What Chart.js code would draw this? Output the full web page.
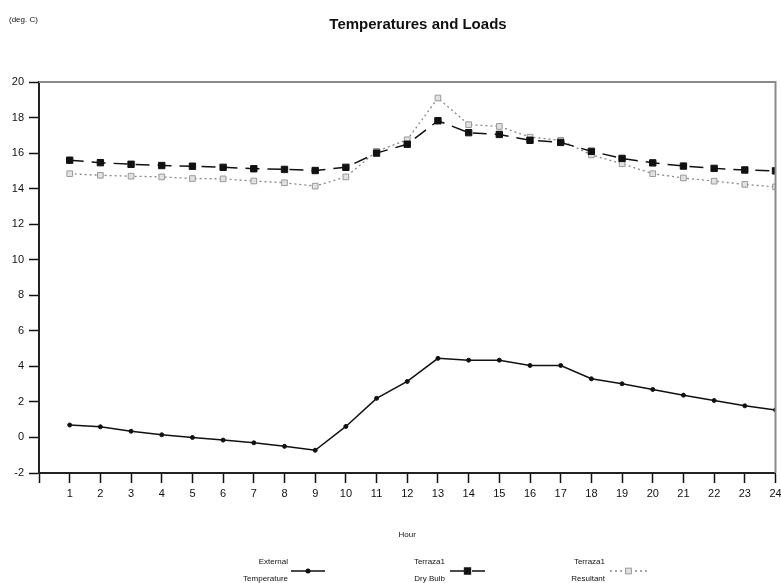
<!DOCTYPE html>
<html>
<head>
<meta charset="utf-8">
<script src="https://cdn.jsdelivr.net/npm/chart.js@4/dist/chart.umd.min.js"></script>
<style>
  html, body { margin: 0; padding: 0; background: #fff; }
  #wrap { width: 781px; height: 583px; }
</style>
</head>
<body>
<div id="wrap"><canvas id="c"></canvas></div>
<script>
// Werte
const hours = [1,2,3,4,5,6,7,8,9,10,11,12,13,14,15,16,17,18,19,20,21,22,23,24];
const externalTemp = [0.7,0.6,0.35,0.15,0.0,-0.15,-0.3,-0.5,-0.72,0.62,2.2,3.15,4.45,4.35,4.35,4.05,4.05,3.3,3.02,2.7,2.38,2.08,1.78,1.55];
const dryBulb = [15.6,15.46,15.37,15.3,15.26,15.2,15.12,15.08,15.02,15.2,16.0,16.5,17.82,17.15,17.05,16.72,16.6,16.1,15.7,15.45,15.27,15.14,15.05,15.0];
const resultant = [14.84,14.75,14.7,14.66,14.57,14.55,14.43,14.33,14.14,14.66,16.1,16.75,19.1,17.6,17.5,16.9,16.72,15.9,15.4,14.84,14.6,14.42,14.24,14.1];
const yTicks = { min: -2, max: 20, step: 2 };
const legendLabels = [['External', 'Temperature'], ['Terraza1', 'Dry Bulb'], ['Terraza1', 'Resultant']];

const FONT = 'Arial, "Liberation Sans", sans-serif';
const pts = arr => arr.map((v, i) => ({ x: hours[i], y: v }));

/* Titel, Einheit, Rahmen und zweizeilige Legende */
const decor = {
  id: 'decor',
  afterDraw(chart) {
    const { ctx, chartArea: a } = chart;
    ctx.save();
    // Rahmen oben und rechts
    ctx.strokeStyle = '#8a8a8a';
    ctx.lineWidth = 2;
    ctx.beginPath();
    ctx.moveTo(a.left, a.top);
    ctx.lineTo(a.right, a.top);
    ctx.lineTo(a.right, a.bottom);
    ctx.stroke();

    ctx.fillStyle = '#111';
    ctx.textAlign = 'center';
    ctx.textBaseline = 'middle';
    ctx.font = 'bold 15px ' + FONT;
    ctx.fillText('Temperatures and Loads', 418, 25);
    ctx.textAlign = 'left';
    ctx.font = '8px ' + FONT;
    ctx.fillText('(deg. C)', 9, 20);

    // Legende
    const items = [{ tx: 288, x0: 291, x1: 325 }, { tx: 445, x0: 450, x1: 485 }, { tx: 605, x0: 610, x1: 647 }];
    items.forEach((it, i) => {
      const ds = chart.data.datasets[i];
      ctx.fillStyle = '#111';
      ctx.textAlign = 'right';
      ctx.font = '8px ' + FONT;
      ctx.fillText(legendLabels[i][0], it.tx, 562);
      ctx.fillText(legendLabels[i][1], it.tx, 579);
      ctx.strokeStyle = ds.borderColor;
      ctx.lineWidth = ds.borderWidth;
      ctx.setLineDash(ds.borderDash || []);
      ctx.beginPath();
      ctx.moveTo(it.x0, 571);
      ctx.lineTo(it.x1, 571);
      ctx.stroke();
      ctx.setLineDash([]);
      const mx = (it.x0 + it.x1) / 2;
      ctx.fillStyle = ds.pointBackgroundColor;
      ctx.strokeStyle = ds.pointBorderColor;
      ctx.lineWidth = 1;
      if (ds.pointStyle === 'rect') {
        const s = ds.pointRadius * Math.SQRT1_2;
        ctx.fillRect(mx - s, 571 - s, 2 * s, 2 * s);
        ctx.strokeRect(mx - s, 571 - s, 2 * s, 2 * s);
      } else {
        ctx.beginPath();
        ctx.arc(mx, 571, ds.pointRadius + 0.5, 0, Math.PI * 2);
        ctx.fill();
      }
    });
    ctx.restore();
  }
};

new Chart(document.getElementById('c'), {
  type: 'line',
  data: {
    datasets: [
      { label: 'External Temperature', data: pts(externalTemp), borderColor: '#111', borderWidth: 1.5,
        pointStyle: 'circle', pointRadius: 2, pointBorderWidth: 1, pointBackgroundColor: '#111', pointBorderColor: '#111', tension: 0 },
      { label: 'Terraza1 Dry Bulb', data: pts(dryBulb), borderColor: '#111', borderWidth: 1.5, borderDash: [14, 8],
        pointStyle: 'rect', pointRadius: 4.5, pointBorderWidth: 1, pointBackgroundColor: '#111', pointBorderColor: '#111', tension: 0 },
      { label: 'Terraza1 Resultant', data: pts(resultant), borderColor: '#888', borderWidth: 1.3, borderDash: [2, 3],
        pointStyle: 'rect', pointRadius: 4, pointBorderWidth: 1, pointBackgroundColor: '#e2e2e2', pointBorderColor: '#999', tension: 0 },
    ],
  },
  options: {
    responsive: true, maintainAspectRatio: false, animation: false,
    layout: { padding: { top: 82, right: 5, left: 0, bottom: 0 } },
    plugins: { legend: { display: false }, tooltip: { enabled: false } },
    scales: {
      x: {
        type: 'linear', min: 0, max: 24,
        ticks: { stepSize: 1, color: '#111', font: { family: FONT, size: 11 }, padding: 4,
                 maxRotation: 0, autoSkip: false, callback: v => (v === 0 ? '' : v) },
        grid: { drawOnChartArea: false, tickLength: 10, tickColor: '#111', tickWidth: 1.5 },
        border: { color: '#222', width: 2 },
        title: { display: true, text: 'Hour', color: '#111', font: { family: FONT, size: 8 }, padding: { top: 0, bottom: 43 } },
        afterFit: s => { s.height = 110; s.paddingLeft = 0; s.paddingRight = 0; },
      },
      y: {
        min: yTicks.min, max: yTicks.max,
        ticks: { stepSize: yTicks.step, color: '#111', font: { family: FONT, size: 11 }, padding: 5 },
        grid: { drawOnChartArea: false, tickLength: 10, tickColor: '#111', tickWidth: 1.5 },
        border: { color: '#222', width: 2 },
        afterFit: s => { s.width = 39; s.paddingTop = 0; s.paddingBottom = 0; },
      },
    },
  },
  plugins: [decor],
});
</script>
</body>
</html>
